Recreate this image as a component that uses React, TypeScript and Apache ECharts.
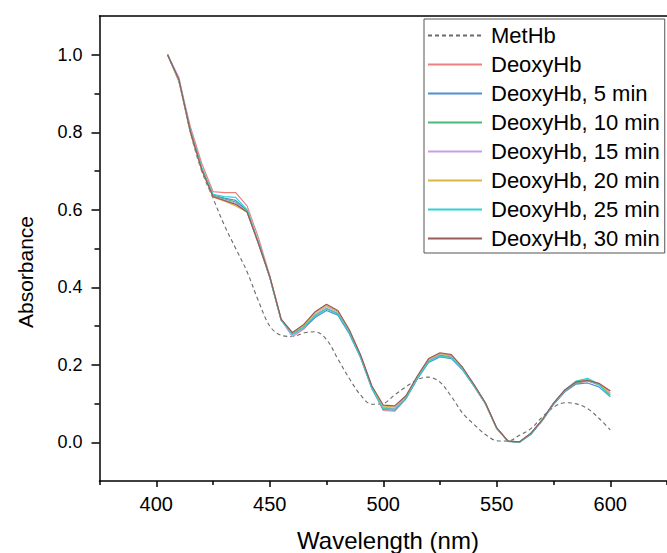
import React, { useEffect, useRef } from "react";
import * as echarts from "echarts";

const FONT = "'Liberation Sans', Arial, Helvetica, sans-serif";

const wavelengths = [
  405, 410, 415, 420, 425, 430, 435, 440, 445, 450,
  455, 460, 465, 470, 475, 480, 485, 490, 495, 500,
  505, 510, 515, 520, 525, 530, 535, 540, 545, 550,
  555, 560, 565, 570, 575, 580, 585, 590, 595, 600,
];

const metHb = [
  1.0, 0.93, 0.8, 0.7, 0.63, 0.56, 0.5, 0.44, 0.365, 0.3,
  0.276, 0.273, 0.282, 0.285, 0.265, 0.215, 0.165, 0.122, 0.098, 0.1,
  0.122, 0.143, 0.162, 0.168, 0.155, 0.118, 0.075, 0.046, 0.02, 0.004,
  0.003, 0.018, 0.035, 0.065, 0.09, 0.102, 0.099, 0.087, 0.062, 0.032,
];

const deoxyHb = [
  1.0, 0.935, 0.815, 0.72, 0.647, 0.644, 0.644, 0.61, 0.528, 0.43,
  0.318, 0.272, 0.292, 0.325, 0.345, 0.332, 0.285, 0.222, 0.14, 0.082,
  0.08, 0.112, 0.165, 0.21, 0.225, 0.22, 0.188, 0.145, 0.099, 0.035,
  0.003, 0.0, 0.022, 0.056, 0.099, 0.132, 0.152, 0.158, 0.15, 0.133,
];

const deoxy5 = [
  1.0, 0.932, 0.805, 0.708, 0.638, 0.63, 0.624, 0.598, 0.515, 0.425,
  0.315, 0.278, 0.295, 0.322, 0.34, 0.328, 0.28, 0.218, 0.138, 0.085,
  0.083, 0.113, 0.163, 0.206, 0.22, 0.216, 0.186, 0.145, 0.1, 0.036,
  0.002, 0.0, 0.02, 0.055, 0.097, 0.13, 0.15, 0.153, 0.143, 0.117,
];

const deoxy10 = [
  1.0, 0.933, 0.803, 0.706, 0.636, 0.628, 0.62, 0.596, 0.514, 0.426,
  0.316, 0.28, 0.298, 0.328, 0.345, 0.332, 0.284, 0.221, 0.14, 0.088,
  0.086, 0.115, 0.166, 0.21, 0.224, 0.219, 0.188, 0.146, 0.1, 0.036,
  0.003, 0.001, 0.022, 0.057, 0.099, 0.133, 0.154, 0.159, 0.148, 0.122,
];

const deoxy15 = [
  1.0, 0.942, 0.805, 0.705, 0.635, 0.625, 0.617, 0.595, 0.513, 0.427,
  0.316, 0.273, 0.296, 0.33, 0.35, 0.336, 0.287, 0.222, 0.141, 0.09,
  0.088, 0.116, 0.167, 0.212, 0.228, 0.223, 0.19, 0.147, 0.101, 0.036,
  0.003, 0.001, 0.022, 0.057, 0.1, 0.134, 0.156, 0.161, 0.15, 0.125,
];

const deoxy20 = [
  1.0, 0.93, 0.8, 0.703, 0.633, 0.622, 0.61, 0.594, 0.513, 0.428,
  0.317, 0.282, 0.302, 0.334, 0.353, 0.338, 0.289, 0.224, 0.143, 0.093,
  0.091, 0.118, 0.169, 0.214, 0.229, 0.224, 0.191, 0.148, 0.101, 0.036,
  0.003, 0.001, 0.022, 0.058, 0.1, 0.134, 0.157, 0.162, 0.151, 0.127,
];

const deoxy25 = [
  1.0, 0.934, 0.806, 0.71, 0.64, 0.634, 0.632, 0.6, 0.517, 0.426,
  0.316, 0.278, 0.297, 0.327, 0.344, 0.331, 0.284, 0.221, 0.139, 0.086,
  0.084, 0.114, 0.165, 0.209, 0.222, 0.218, 0.188, 0.146, 0.1, 0.036,
  0.002, 0.0, 0.021, 0.057, 0.1, 0.135, 0.158, 0.165, 0.15, 0.118,
];

const deoxy30 = [
  1.0, 0.936, 0.802, 0.704, 0.634, 0.624, 0.614, 0.594, 0.513, 0.428,
  0.318, 0.283, 0.304, 0.337, 0.356, 0.34, 0.291, 0.226, 0.145, 0.096,
  0.094, 0.12, 0.171, 0.216, 0.231, 0.226, 0.193, 0.149, 0.102, 0.037,
  0.003, 0.001, 0.023, 0.058, 0.101, 0.135, 0.156, 0.16, 0.152, 0.132,
];

const seriesNames = [
  "MetHb",
  "DeoxyHb",
  "DeoxyHb, 5 min",
  "DeoxyHb, 10 min",
  "DeoxyHb, 15 min",
  "DeoxyHb, 20 min",
  "DeoxyHb, 25 min",
  "DeoxyHb, 30 min",
];
const seriesValues = [metHb, deoxyHb, deoxy5, deoxy10, deoxy15, deoxy20, deoxy25, deoxy30];
const seriesColors = [
  "#6a6a6a",
  "#ef7f80",
  "#4f8fd6",
  "#4cb87a",
  "#c69fe8",
  "#d9b64a",
  "#30d2d2",
  "#9b5a5a",
];

const xMajorTicks = [400, 450, 500, 550, 600];
const xMinorTicks = [375, 425, 475, 525, 575, 625];
const yMajorTicks = [0, 0.2, 0.4, 0.6, 0.8, 1.0];
const yMinorTicks = [0.1, 0.3, 0.5, 0.7, 0.9];

const xTitle = "Wavelength (nm)";
const yTitle = "Absorbance";

export default function App() {
  const ref = useRef<HTMLDivElement>(null);

  useEffect(() => {
    if (!ref.current) return;
    const chart = echarts.init(ref.current, undefined, { renderer: "svg" });
    const axisLineStyle = { color: "#000", width: 1.5 };

    const series = seriesNames.map((name, si) => ({
      name,
      type: "line",
      data: wavelengths.map((w, i) => [w, seriesValues[si][i]]),
      symbol: "none",
      showSymbol: false,
      smooth: si === 0 ? 0.35 : false,
      lineStyle: {
        color: seriesColors[si],
        width: si === 0 ? 1.1 : 1.2,
        type: si === 0 ? [4, 3] : "solid",
      },
      itemStyle: { color: seriesColors[si] },
      z: 2 + si,
    }));

    const option = {
      animation: false,
      textStyle: { fontFamily: FONT },
      grid: { left: 99.5, right: -9.5, top: 16, bottom: 72, containLabel: false },
      xAxis: [
        {
          type: "value",
          min: 375,
          max: 625,
          position: "bottom",
          axisLine: { show: true, onZero: false, lineStyle: axisLineStyle },
          axisTick: { show: true, inside: false, length: 6, customValues: xMajorTicks, lineStyle: axisLineStyle },
          axisLabel: {
            show: true,
            customValues: xMajorTicks,
            margin: 13,
            fontSize: 20,
            color: "#000",
            fontFamily: FONT,
          },
          splitLine: { show: false },
        },
        {
          type: "value",
          min: 375,
          max: 625,
          position: "bottom",
          axisLine: { show: false, onZero: false },
          axisTick: { show: true, inside: false, length: 4, customValues: xMinorTicks, lineStyle: axisLineStyle },
          axisLabel: { show: false },
          splitLine: { show: false },
        },
        {
          type: "value",
          min: 375,
          max: 625,
          position: "top",
          axisLine: { show: true, onZero: false, lineStyle: axisLineStyle },
          axisTick: { show: false },
          axisLabel: { show: false },
          splitLine: { show: false },
        },
      ],
      yAxis: [
        {
          type: "value",
          min: -0.1,
          max: 1.1,
          position: "left",
          axisLine: { show: true, onZero: false, lineStyle: axisLineStyle },
          axisTick: { show: true, inside: false, length: 8, customValues: yMajorTicks, lineStyle: axisLineStyle },
          axisLabel: {
            show: true,
            customValues: yMajorTicks,
            formatter: (v: number) => v.toFixed(1),
            margin: 17,
            fontSize: 18,
            color: "#000",
            fontFamily: FONT,
          },
          splitLine: { show: false },
        },
        {
          type: "value",
          min: -0.1,
          max: 1.1,
          position: "left",
          axisLine: { show: false, onZero: false },
          axisTick: { show: true, inside: false, length: 5, customValues: yMinorTicks, lineStyle: axisLineStyle },
          axisLabel: { show: false },
          splitLine: { show: false },
        },
      ],
      legend: {
        orient: "vertical",
        left: 424,
        top: 19,
        padding: [2, 5, 0, 3],
        itemGap: 0,
        itemWidth: 54,
        itemHeight: 29,
        borderColor: "#555",
        borderWidth: 1,
        backgroundColor: "#fff",
        selectedMode: false,
        itemStyle: { opacity: 0 },
        textStyle: {
          fontSize: 22,
          color: "#000",
          fontFamily: FONT,
          padding: [0, 0, 0, 4],
          lineHeight: 29,
        },
        data: seriesNames,
      },
      graphic: [
        {
          type: "text",
          x: 388,
          y: 540,
          style: {
            text: xTitle,
            fontSize: 24,
            fontFamily: FONT,
            fill: "#000",
            align: "center",
            verticalAlign: "middle",
          },
        },
        {
          type: "text",
          x: 25,
          y: 272,
          rotation: Math.PI / 2,
          style: {
            text: yTitle,
            fontSize: 21,
            fontFamily: FONT,
            fill: "#000",
            align: "center",
            verticalAlign: "middle",
          },
        },
      ],
      series,
    };

    chart.setOption(option as any);
    return () => chart.dispose();
  }, []);

  return (
    <div
      ref={ref}
      style={{ position: "fixed", left: 0, top: 0, width: 667, height: 553, background: "#fff" }}
    />
  );
}
